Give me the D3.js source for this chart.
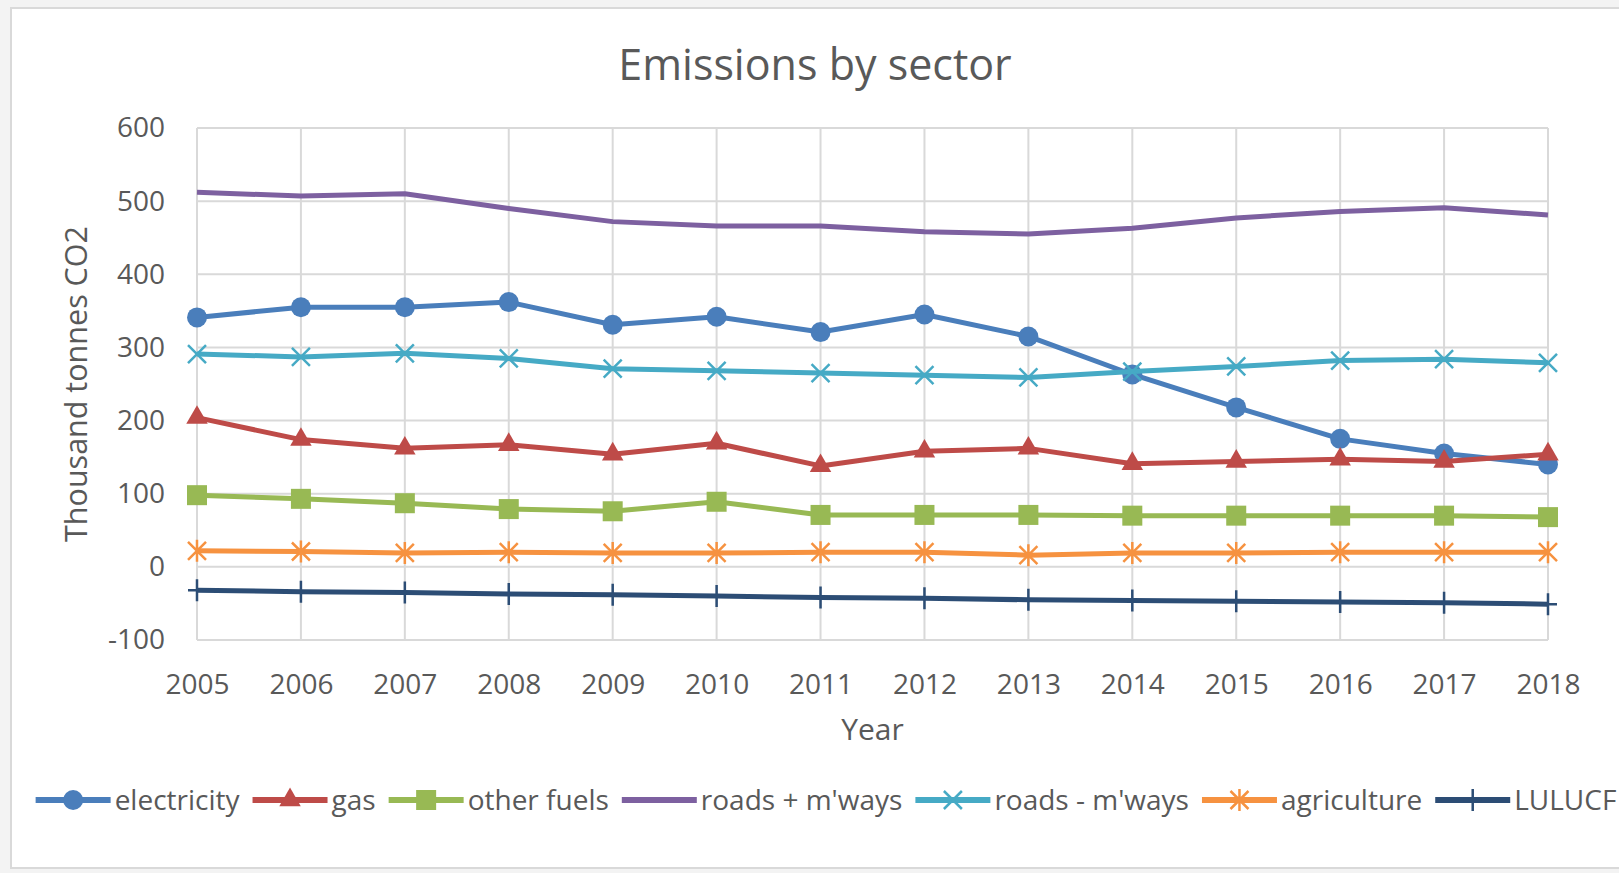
<!DOCTYPE html>
<html>
<head>
<meta charset="utf-8">
<script src="https://cdn.jsdelivr.net/npm/d3@7"></script>
<style>
  body { margin: 0; background: #f3f3f3; }
  text { font-family: "Open Sans", sans-serif; fill: #595959; }
</style>
</head>
<body>
<div id="chart"></div>
<script>
// Emissions by sector line chart

// Years on the x axis
const years = ["2005", "2006", "2007", "2008", "2009", "2010", "2011", "2012", "2013", "2014", "2015", "2016", "2017", "2018"];

// Series values, thousand tonnes CO2
const electricity = [341, 355, 355, 362, 331, 342, 321, 345, 315, 263, 218, 175, 155, 140];
const gas = [204, 174, 162, 167, 154, 169, 138, 158, 162, 141, 144, 147, 144, 154];
const otherFuels = [98, 93, 87, 79, 76, 89, 71, 71, 71, 70, 70, 70, 70, 68];
const roadsPlus = [512, 507, 510, 490, 472, 466, 466, 458, 455, 463, 477, 486, 491, 481];
const roadsMinus = [291, 287, 292, 285, 271, 268, 265, 262, 259, 267, 274, 282, 284, 279];
const agriculture = [22, 21, 19, 20, 19, 19, 20, 20, 16, 19, 19, 20, 20, 20];
const lulucf = [-32, -34, -35, -37, -38, -40, -42, -43, -45, -46, -47, -48, -49, -51];

// Y axis ticks
const yTicks = [-100, 0, 100, 200, 300, 400, 500, 600];

// Series names
const seriesNames = ["electricity", "gas", "other fuels", "roads + m'ways", "roads - m'ways", "agriculture", "LULUCF"];

const series = [
  { name: seriesNames[0], values: electricity, color: "#4a7ebb", marker: "circle" },
  { name: seriesNames[1], values: gas, color: "#be4b48", marker: "triangle" },
  { name: seriesNames[2], values: otherFuels, color: "#98b954", marker: "square" },
  { name: seriesNames[3], values: roadsPlus, color: "#7d60a0", marker: "none" },
  { name: seriesNames[4], values: roadsMinus, color: "#46aac5", marker: "x" },
  { name: seriesNames[5], values: agriculture, color: "#f69240", marker: "star" },
  { name: seriesNames[6], values: lulucf, color: "#2c4d75", marker: "plus" }
];

const width = 1619;
const height = 873;
const margin = { left: 197, right: 71, top: 128, bottom: 233 };

const svg = d3.select("#chart")
  .append("svg")
  .attr("width", width)
  .attr("height", height);

// chart area frame
svg.append("rect")
  .attr("x", 11)
  .attr("y", 8)
  .attr("width", 1660)
  .attr("height", 860)
  .attr("fill", "white")
  .attr("stroke", "#d9d9d9")
  .attr("stroke-width", 2);

const x = d3.scalePoint()
  .domain(years)
  .range([margin.left, width - margin.right]);

const y = d3.scaleLinear()
  .domain([-100, 600])
  .range([height - margin.bottom, margin.top]);

// Gridlines
svg.append("g")
  .selectAll("line")
  .data(yTicks)
  .enter()
  .append("line")
  .attr("x1", margin.left)
  .attr("x2", width - margin.right)
  .attr("y1", d => y(d))
  .attr("y2", d => y(d))
  .attr("stroke", "#d9d9d9")
  .attr("stroke-width", 2);

svg.append("g")
  .selectAll("line")
  .data(years)
  .enter()
  .append("line")
  .attr("x1", d => x(d))
  .attr("x2", d => x(d))
  .attr("y1", y(600))
  .attr("y2", y(-100))
  .attr("stroke", "#d9d9d9")
  .attr("stroke-width", 2);

// Y axis labels (plain hyphen for negatives, like the original)
const yAxis = svg.append("g")
  .attr("transform", "translate(" + (margin.left - 32) + ",0)")
  .call(d3.axisLeft(y).tickValues(yTicks).tickFormat(d => String(d)).tickSize(0).tickPadding(0));
yAxis.select(".domain").remove();
yAxis.selectAll("text")
  .style("font-size", "28px")
  .style("font-family", "Open Sans")
  .attr("fill", "#595959");

// X axis labels
const xAxis = svg.append("g")
  .attr("transform", "translate(0," + (y(-100) + 34) + ")")
  .call(d3.axisBottom(x).tickSize(0).tickPadding(0));
xAxis.select(".domain").remove();
xAxis.selectAll("text")
  .style("font-size", "28px")
  .style("font-family", "Open Sans")
  .attr("fill", "#595959");

// Titles
svg.append("text")
  .attr("x", 815)
  .attr("y", 80)
  .attr("text-anchor", "middle")
  .style("font-size", "43px")
  .text("Emissions by sector");

svg.append("text")
  .attr("x", (margin.left + width - margin.right) / 2)
  .attr("y", 740)
  .attr("text-anchor", "middle")
  .style("font-size", "30px")
  .text("Year");

svg.append("text")
  .attr("transform", "translate(87," + ((y(600) + y(-100)) / 2) + ") rotate(-90)")
  .attr("text-anchor", "middle")
  .style("font-size", "30.5px")
  .text("Thousand tonnes CO2");

//A function to draw one marker of the given type
function drawMarker(g, type, color) {
  if (type === "circle") {
    g.append("circle").attr("r", 10).attr("fill", color);
  } else if (type === "triangle") {
    g.append("path").attr("d", d3.symbol().type(d3.symbolTriangle).size(200)()).attr("fill", color);
  } else if (type === "square") {
    g.append("rect").attr("x", -10).attr("y", -10).attr("width", 20).attr("height", 20).attr("fill", color);
  } else if (type === "x") {
    g.append("path").attr("d", "M-9,-9L9,9M-9,9L9,-9").attr("stroke", color).attr("stroke-width", 2.5);
  } else if (type === "star") {
    g.append("path").attr("d", "M-9,-9L9,9M-9,9L9,-9M0,-11L0,11").attr("stroke", color).attr("stroke-width", 2.5);
  } else if (type === "plus") {
    g.append("path").attr("d", "M0,-11L0,11M-9,0L9,0").attr("stroke", color).attr("stroke-width", 2.5);
  }
}

// Lines and markers
const line = d3.line()
  .x((d, i) => x(years[i]))
  .y(d => y(d));

series.forEach(s => {
  svg.append("path")
    .datum(s.values)
    .attr("d", line)
    .attr("fill", "none")
    .attr("stroke", s.color)
    .attr("stroke-width", 5)
    .attr("stroke-linejoin", "round");

  s.values.forEach((v, i) => {
    const g = svg.append("g").attr("transform", "translate(" + x(years[i]) + "," + y(v) + ")");
    drawMarker(g, s.marker, s.color);
  });
});

// Legend
const legend = svg.append("g");
let cursor = 0;
series.forEach(s => {
  const item = legend.append("g").attr("transform", "translate(" + cursor + ",0)");
  item.append("line")
    .attr("x1", 0)
    .attr("x2", 75)
    .attr("stroke", s.color)
    .attr("stroke-width", 6);
  drawMarker(item.append("g").attr("transform", "translate(37.5,0)"), s.marker, s.color);
  const t = item.append("text")
    .attr("x", 79)
    .attr("dy", "0.35em")
    .style("font-size", "28px")
    .text(s.name);
  cursor += 79 + t.node().getComputedTextLength() + 13;
});
legend.attr("transform", "translate(" + (826 - (cursor - 13) / 2) + ",800)");
</script>
</body>
</html>
